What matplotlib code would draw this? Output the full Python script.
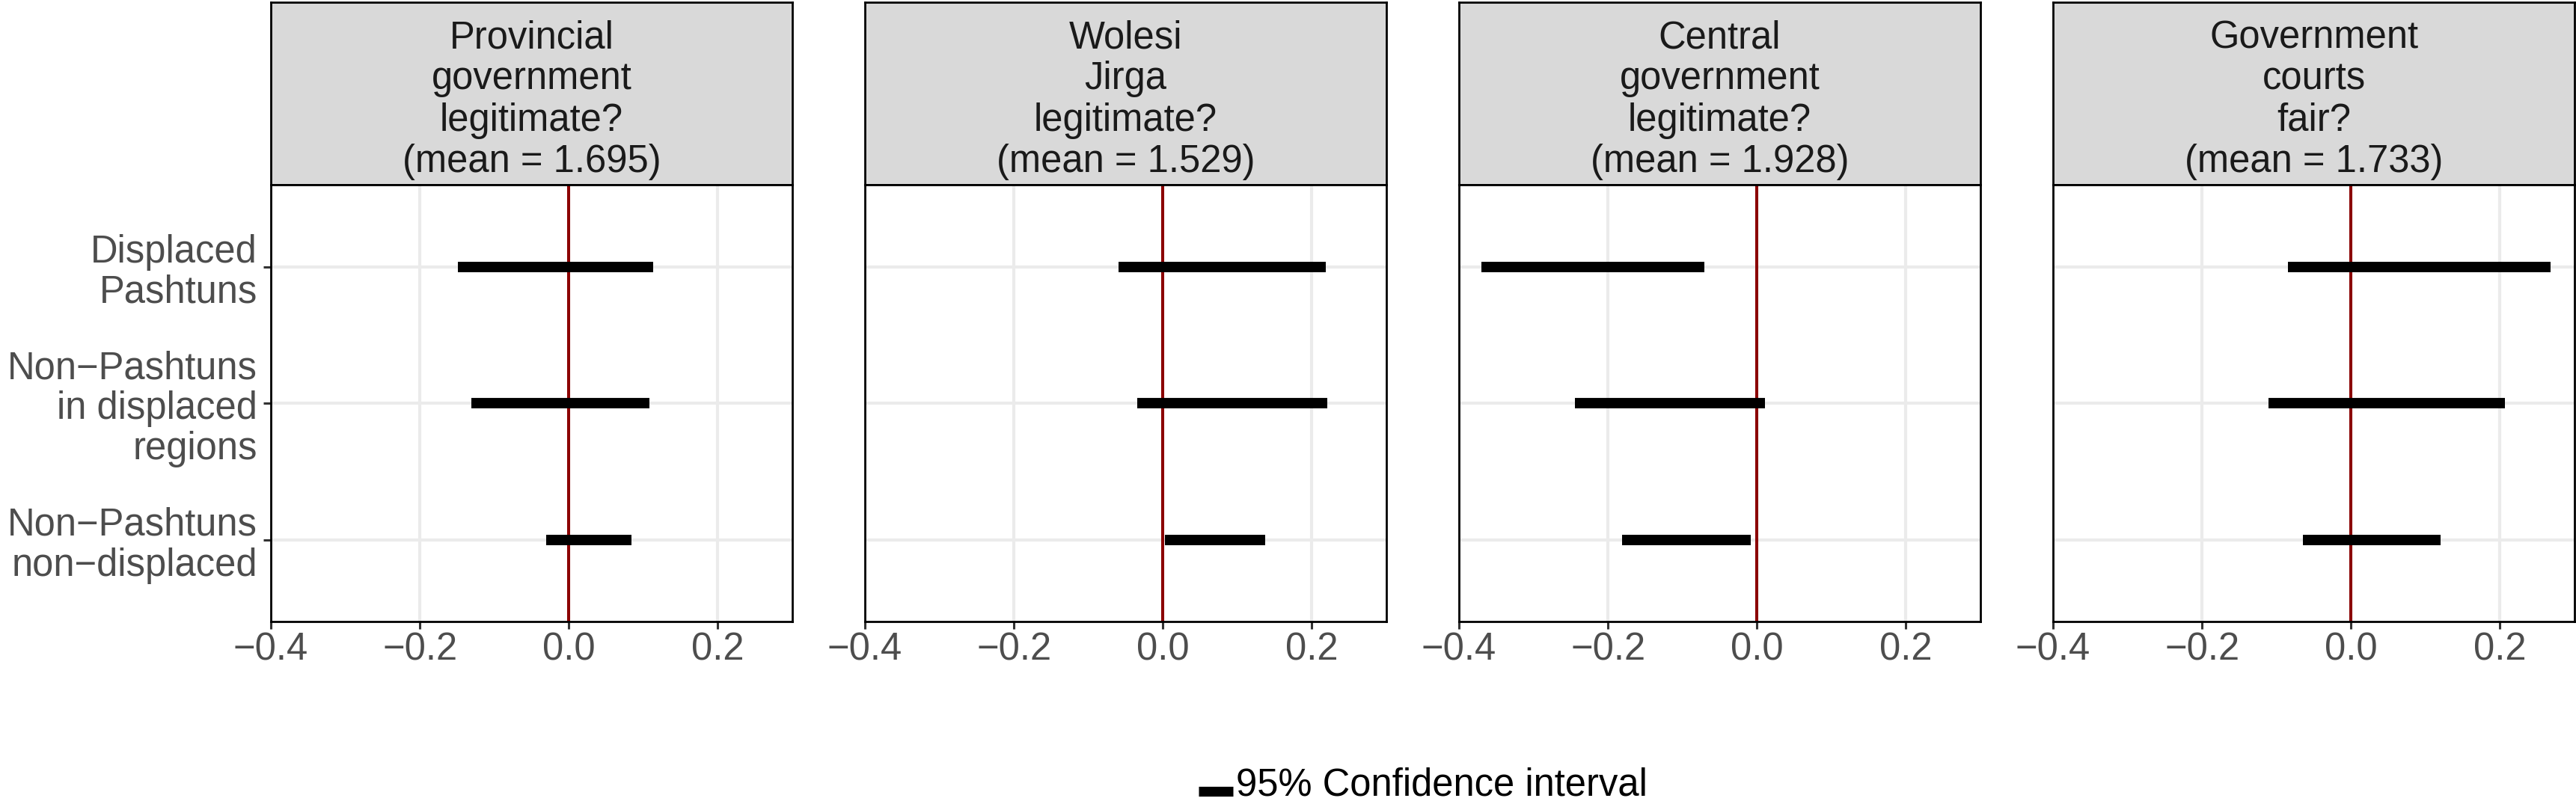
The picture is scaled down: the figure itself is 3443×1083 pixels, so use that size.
import matplotlib
matplotlib.use("Agg")
import matplotlib.pyplot as plt
from matplotlib.lines import Line2D
from matplotlib.legend_handler import HandlerLine2D

plt.rcParams['font.family'] = ['Liberation Sans', 'DejaVu Sans']

# ---- data ----
outcomes = ["Provincial\ngovernment\nlegitimate?",
            "Wolesi\nJirga\nlegitimate?",
            "Central\ngovernment\nlegitimate?",
            "Government\ncourts\nfair?"]
means = [1.695, 1.529, 1.928, 1.733]
groups = ["Displaced\nPashtuns",
          "Non\u2212Pashtuns\nin displaced\nregions",
          "Non\u2212Pashtuns\nnon\u2212displaced"]
ci_low_prov = [-0.149, -0.131, -0.030]
ci_high_prov = [0.113, 0.108, 0.084]
ci_low_wolesi = [-0.060, -0.034, 0.003]
ci_high_wolesi = [0.219, 0.221, 0.137]
ci_low_central = [-0.370, -0.244, -0.181]
ci_high_central = [-0.071, 0.011, -0.008]
ci_low_courts = [-0.085, -0.111, -0.065]
ci_high_courts = [0.268, 0.207, 0.120]
ci_low = [ci_low_prov, ci_low_wolesi, ci_low_central, ci_low_courts]
ci_high = [ci_high_prov, ci_high_wolesi, ci_high_central, ci_high_courts]
x_ticks = [-0.4, -0.2, 0.0, 0.2]
x_ticklabels = ["\u22120.4", "\u22120.2", "0.0", "0.2"]
legend_label = "95% Confidence interval"

W, H = 3443, 1083
fig = plt.figure(figsize=(W / 100, H / 100), dpi=100)

panel_left = [362, 1156, 1950, 2744]
panel_w = 697
strip_top, panel_top, panel_bot = 3, 247, 831

AXIS_FS = 36.5
STRIP_FS = 36.5

def fx(px):
    return px / W

def fy(py):
    return 1 - py / H

grid_col = "#EBEBEB"
for k in range(4):
    # strip
    sax = fig.add_axes([fx(panel_left[k]), fy(panel_top), fx(panel_w),
                        (panel_top - strip_top) / H])
    sax.set_facecolor("#D9D9D9")
    sax.set_xticks([]); sax.set_yticks([])
    for s in sax.spines.values():
        s.set_linewidth(2.0); s.set_color("black")
    sax.text(0.5, 0.465, f"{outcomes[k]}\n(mean = {means[k]:.3f})",
             ha="center", va="center", fontsize=STRIP_FS, color="#1A1A1A",
             linespacing=1.16, transform=sax.transAxes)

    ax = fig.add_axes([fx(panel_left[k]), fy(panel_bot), fx(panel_w),
                       (panel_bot - panel_top) / H])
    ax.set_xlim(-0.4, 0.3)
    ax.set_ylim(0.4, 3.6)
    ypos = [3 - i for i in range(len(groups))]
    ax.set_xticks(x_ticks)
    ax.set_xticklabels(x_ticklabels)
    ax.set_yticks(ypos)
    ax.grid(True, color=grid_col, linewidth=3.0, zorder=0)
    ax.set_axisbelow(True)
    ax.axvline(0, color="#8B0000", linewidth=2.9, zorder=3)
    for i in range(len(groups)):
        ax.plot([ci_low[k][i], ci_high[k][i]], [ypos[i], ypos[i]],
                color="black", linewidth=10, solid_capstyle="butt", zorder=4)
    for s in ax.spines.values():
        s.set_linewidth(2.0); s.set_color("black")
        s.set_zorder(5)
    ax.tick_params(axis="x", length=7, width=2.2, color="#333333",
                   labelsize=AXIS_FS, labelcolor="#4D4D4D", pad=3)
    if k == 0:
        ax.set_yticklabels(groups)
        ax.tick_params(axis="y", length=7, width=2.2, color="#333333",
                       labelsize=AXIS_FS, labelcolor="#4D4D4D", pad=6)
        for t in ax.get_yticklabels():
            t.set_multialignment("right")
            t.set_linespacing(1.13)
    else:
        ax.set_yticklabels([])
        ax.tick_params(axis="y", length=0)


class LowKeyHandler(HandlerLine2D):
    def create_artists(self, legend, orig_handle, xdescent, ydescent,
                       width, height, fontsize, trans):
        return super().create_artists(legend, orig_handle, xdescent,
                                      ydescent + 18, width, height,
                                      fontsize, trans)


handle = Line2D([], [], color="black", linewidth=9.5, solid_capstyle="butt")
fig.legend([handle], [legend_label], loc="center",
           bbox_to_anchor=(fx(1902), fy(1050)), frameon=False,
           fontsize=AXIS_FS, handlelength=0.9, handletextpad=0.08,
           labelcolor="black", handler_map={Line2D: LowKeyHandler()})

fig.savefig("out.png", dpi=100, facecolor="white")
